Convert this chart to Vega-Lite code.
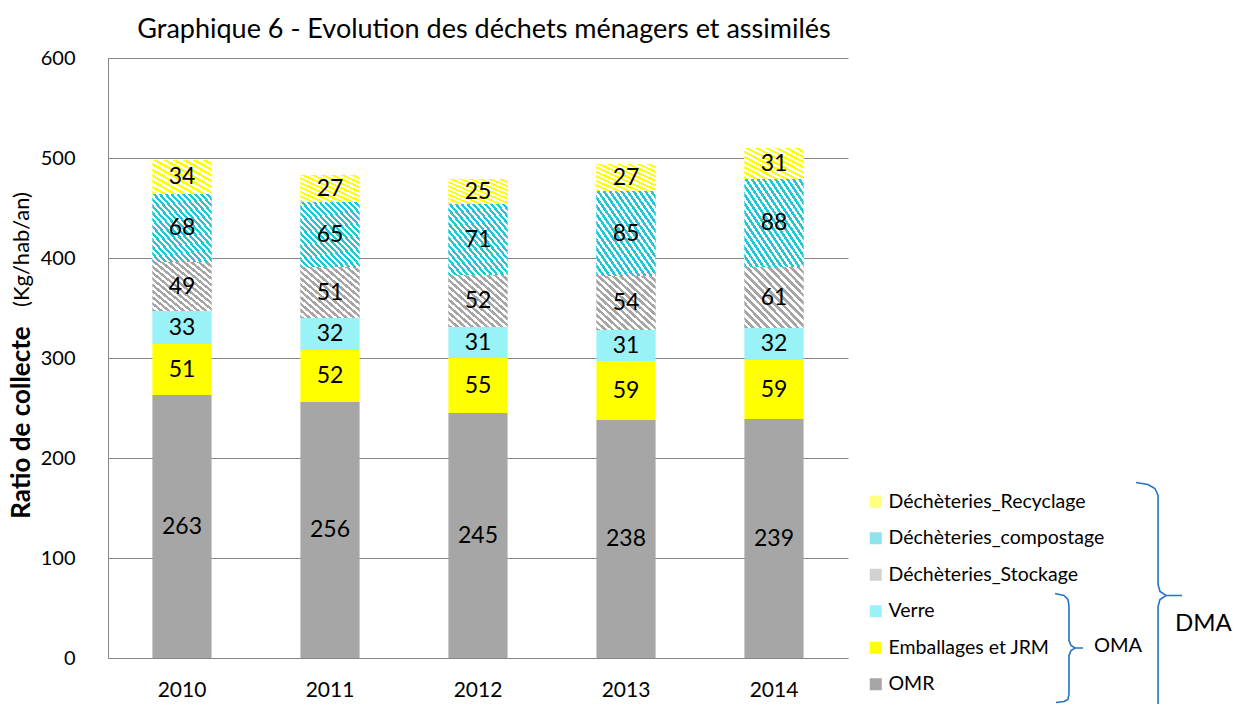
{
  "$schema": "https://vega.github.io/schema/vega-lite/v6.json",
  "width": 740,
  "height": 600,
  "autosize": {"type": "none"},
  "padding": {"left": 108, "top": 58, "right": 386, "bottom": 46},
  "background": "white",
  "config": {"view": {"stroke": null}, "font": "Lato"},
  "title": {"text": "Graphique 6 - Evolution des déchets ménagers et assimilés", "fontSize": 27, "fontWeight": "normal", "font": "Lato", "color": "black", "anchor": "middle", "offset": 4, "dx": 6},
  "datasets": {
    "dechets": [
      {"year": "2010", "cat": "OMR", "value": 263, "ord": 1},
      {"year": "2010", "cat": "Emballages et JRM", "value": 51, "ord": 2},
      {"year": "2010", "cat": "Verre", "value": 33, "ord": 3},
      {"year": "2010", "cat": "Déchèteries_Stockage", "value": 49, "ord": 4},
      {"year": "2010", "cat": "Déchèteries_compostage", "value": 68, "ord": 5},
      {"year": "2010", "cat": "Déchèteries_Recyclage", "value": 34, "ord": 6},
      {"year": "2011", "cat": "OMR", "value": 256, "ord": 1},
      {"year": "2011", "cat": "Emballages et JRM", "value": 52, "ord": 2},
      {"year": "2011", "cat": "Verre", "value": 32, "ord": 3},
      {"year": "2011", "cat": "Déchèteries_Stockage", "value": 51, "ord": 4},
      {"year": "2011", "cat": "Déchèteries_compostage", "value": 65, "ord": 5},
      {"year": "2011", "cat": "Déchèteries_Recyclage", "value": 27, "ord": 6},
      {"year": "2012", "cat": "OMR", "value": 245, "ord": 1},
      {"year": "2012", "cat": "Emballages et JRM", "value": 55, "ord": 2},
      {"year": "2012", "cat": "Verre", "value": 31, "ord": 3},
      {"year": "2012", "cat": "Déchèteries_Stockage", "value": 52, "ord": 4},
      {"year": "2012", "cat": "Déchèteries_compostage", "value": 71, "ord": 5},
      {"year": "2012", "cat": "Déchèteries_Recyclage", "value": 25, "ord": 6},
      {"year": "2013", "cat": "OMR", "value": 238, "ord": 1},
      {"year": "2013", "cat": "Emballages et JRM", "value": 59, "ord": 2},
      {"year": "2013", "cat": "Verre", "value": 31, "ord": 3},
      {"year": "2013", "cat": "Déchèteries_Stockage", "value": 54, "ord": 4},
      {"year": "2013", "cat": "Déchèteries_compostage", "value": 85, "ord": 5},
      {"year": "2013", "cat": "Déchèteries_Recyclage", "value": 27, "ord": 6},
      {"year": "2014", "cat": "OMR", "value": 239, "ord": 1},
      {"year": "2014", "cat": "Emballages et JRM", "value": 59, "ord": 2},
      {"year": "2014", "cat": "Verre", "value": 32, "ord": 3},
      {"year": "2014", "cat": "Déchèteries_Stockage", "value": 61, "ord": 4},
      {"year": "2014", "cat": "Déchèteries_compostage", "value": 88, "ord": 5},
      {"year": "2014", "cat": "Déchèteries_Recyclage", "value": 31, "ord": 6}
    ],
    "braces": [
      {"brace": "OMA", "i": 1, "bx": 6.399, "by": 64.5},
      {"brace": "OMA", "i": 2, "bx": 6.459, "by": 62.5},
      {"brace": "OMA", "i": 3, "bx": 6.486, "by": 58.5},
      {"brace": "OMA", "i": 4, "bx": 6.493, "by": 52.5},
      {"brace": "OMA", "i": 5, "bx": 6.493, "by": 17.5},
      {"brace": "OMA", "i": 6, "bx": 6.507, "by": 12.5},
      {"brace": "OMA", "i": 7, "bx": 6.534, "by": 10},
      {"brace": "OMA", "i": 8, "bx": 6.588, "by": 10},
      {"brace": "OMA", "i": 9, "bx": 6.534, "by": 10},
      {"brace": "OMA", "i": 10, "bx": 6.507, "by": 7.5},
      {"brace": "OMA", "i": 11, "bx": 6.493, "by": 2.5},
      {"brace": "OMA", "i": 12, "bx": 6.493, "by": -36.5},
      {"brace": "OMA", "i": 13, "bx": 6.486, "by": -41.5},
      {"brace": "OMA", "i": 14, "bx": 6.459, "by": -43.5},
      {"brace": "OMA", "i": 15, "bx": 6.405, "by": -44.5},
      {"brace": "DMA", "i": 1, "bx": 6.946, "by": 175.5},
      {"brace": "DMA", "i": 2, "bx": 7.027, "by": 173.5},
      {"brace": "DMA", "i": 3, "bx": 7.074, "by": 169.5},
      {"brace": "DMA", "i": 4, "bx": 7.095, "by": 162.5},
      {"brace": "DMA", "i": 5, "bx": 7.095, "by": 73.5},
      {"brace": "DMA", "i": 6, "bx": 7.108, "by": 66.5},
      {"brace": "DMA", "i": 7, "bx": 7.149, "by": 62.5},
      {"brace": "DMA", "i": 8, "bx": 7.257, "by": 62.5},
      {"brace": "DMA", "i": 9, "bx": 7.149, "by": 62.5},
      {"brace": "DMA", "i": 10, "bx": 7.108, "by": 58.5},
      {"brace": "DMA", "i": 11, "bx": 7.095, "by": 51.5},
      {"brace": "DMA", "i": 12, "bx": 7.095, "by": -55}
    ],
    "notes": [
      {"label": "OMA", "nx": 6.662, "ny": 12.5},
      {"label": "DMA", "nx": 7.209, "ny": 34.5},
      {"label": "(Kg/hab/an)", "nx": -0.581, "ny": 408.5},
      {"label": "Ratio de collecte", "nx": -0.581, "ny": 235.5}
    ]
  },
  "layer": [
    {
      "data": {"name": "dechets"},
      "transform": [
        {"stack": "value", "groupby": ["year"], "sort": [{"field": "ord", "order": "ascending"}], "as": ["y0", "y1"]},
        {"calculate": "(datum.y0 + datum.y1) / 2", "as": "ymid"}
      ],
      "layer": [
        {
          "mark": {"type": "bar"},
          "encoding": {
            "x": {"field": "year", "type": "nominal", "scale": {"paddingInner": 0.6, "paddingOuter": 0.3},
              "axis": {"title": null, "labelAngle": 0, "ticks": false, "labelFontSize": 21, "labelColor": "black", "labelPadding": 21, "domainColor": "#868686", "labelFont": "Lato"}},
            "y": {"field": "y1", "type": "quantitative", "scale": {"domain": [0, 600], "nice": false},
              "axis": {"values": [0, 100, 200, 300, 400, 500, 600], "grid": true, "gridColor": "#868686", "domainColor": "#868686", "ticks": false, "labelFontSize": 20, "labelColor": "black", "labelPadding": 33, "labelFont": "Lato", "title": null}},
            "y2": {"field": "y0"},
            "color": {"field": "cat", "type": "nominal",
              "scale": {
                "domain": ["Déchèteries_Recyclage", "Déchèteries_compostage", "Déchèteries_Stockage", "Verre", "Emballages et JRM", "OMR"],
                "range": ["#ffff80", "#90e3ea", "#d2d2d2", "#99f2f6", "#ffff00", "#a6a6a6"]
              },
              "legend": {
                "title": null, "orient": "none", "legendX": 758, "legendY": 434, "padding": 0,
                "symbolType": "square", "symbolSize": 144, "symbolStrokeWidth": 0,
                "labelFontSize": 19.5, "labelColor": "black", "labelFont": "Lato", "labelOffset": 3, "rowPadding": 15.5, "labelLimit": 400
              }
            }
          }
        },
        {
          "transform": [{"filter": "datum.cat === 'Déchèteries_Recyclage'"}],
          "mark": {"type": "bar", "fill": {"gradient": "linear", "x1": 0, "y1": 1, "x2": 1, "y2": 0, "stops": [
            {"offset": 0, "color": "#ffff00"}, {"offset": 0.0417, "color": "#ffff00"}, {"offset": 0.0417, "color": "#ffffff"}, {"offset": 0.0833, "color": "#ffffff"},
            {"offset": 0.0833, "color": "#ffff00"}, {"offset": 0.125, "color": "#ffff00"}, {"offset": 0.125, "color": "#ffffff"}, {"offset": 0.1667, "color": "#ffffff"},
            {"offset": 0.1667, "color": "#ffff00"}, {"offset": 0.2083, "color": "#ffff00"}, {"offset": 0.2083, "color": "#ffffff"}, {"offset": 0.25, "color": "#ffffff"},
            {"offset": 0.25, "color": "#ffff00"}, {"offset": 0.2917, "color": "#ffff00"}, {"offset": 0.2917, "color": "#ffffff"}, {"offset": 0.3333, "color": "#ffffff"},
            {"offset": 0.3333, "color": "#ffff00"}, {"offset": 0.375, "color": "#ffff00"}, {"offset": 0.375, "color": "#ffffff"}, {"offset": 0.4167, "color": "#ffffff"},
            {"offset": 0.4167, "color": "#ffff00"}, {"offset": 0.4583, "color": "#ffff00"}, {"offset": 0.4583, "color": "#ffffff"}, {"offset": 0.5, "color": "#ffffff"},
            {"offset": 0.5, "color": "#ffff00"}, {"offset": 0.5417, "color": "#ffff00"}, {"offset": 0.5417, "color": "#ffffff"}, {"offset": 0.5833, "color": "#ffffff"},
            {"offset": 0.5833, "color": "#ffff00"}, {"offset": 0.625, "color": "#ffff00"}, {"offset": 0.625, "color": "#ffffff"}, {"offset": 0.6667, "color": "#ffffff"},
            {"offset": 0.6667, "color": "#ffff00"}, {"offset": 0.7083, "color": "#ffff00"}, {"offset": 0.7083, "color": "#ffffff"}, {"offset": 0.75, "color": "#ffffff"},
            {"offset": 0.75, "color": "#ffff00"}, {"offset": 0.7917, "color": "#ffff00"}, {"offset": 0.7917, "color": "#ffffff"}, {"offset": 0.8333, "color": "#ffffff"},
            {"offset": 0.8333, "color": "#ffff00"}, {"offset": 0.875, "color": "#ffff00"}, {"offset": 0.875, "color": "#ffffff"}, {"offset": 0.9167, "color": "#ffffff"},
            {"offset": 0.9167, "color": "#ffff00"}, {"offset": 0.9583, "color": "#ffff00"}, {"offset": 0.9583, "color": "#ffffff"}, {"offset": 1, "color": "#ffffff"}]}},
          "encoding": {
            "x": {"field": "year", "type": "nominal"},
            "y": {"field": "y1", "type": "quantitative"},
            "y2": {"field": "y0"}
          }
        },
        {
          "transform": [{"filter": "datum.cat === 'Déchèteries_compostage'"}],
          "mark": {"type": "bar", "fill": {"gradient": "linear", "x1": 0, "y1": 1, "x2": 1, "y2": 0, "stops": [
            {"offset": 0, "color": "#22c7d6"}, {"offset": 0.025, "color": "#22c7d6"}, {"offset": 0.025, "color": "#ffffff"}, {"offset": 0.05, "color": "#ffffff"},
            {"offset": 0.05, "color": "#22c7d6"}, {"offset": 0.075, "color": "#22c7d6"}, {"offset": 0.075, "color": "#ffffff"}, {"offset": 0.1, "color": "#ffffff"},
            {"offset": 0.1, "color": "#22c7d6"}, {"offset": 0.125, "color": "#22c7d6"}, {"offset": 0.125, "color": "#ffffff"}, {"offset": 0.15, "color": "#ffffff"},
            {"offset": 0.15, "color": "#22c7d6"}, {"offset": 0.175, "color": "#22c7d6"}, {"offset": 0.175, "color": "#ffffff"}, {"offset": 0.2, "color": "#ffffff"},
            {"offset": 0.2, "color": "#22c7d6"}, {"offset": 0.225, "color": "#22c7d6"}, {"offset": 0.225, "color": "#ffffff"}, {"offset": 0.25, "color": "#ffffff"},
            {"offset": 0.25, "color": "#22c7d6"}, {"offset": 0.275, "color": "#22c7d6"}, {"offset": 0.275, "color": "#ffffff"}, {"offset": 0.3, "color": "#ffffff"},
            {"offset": 0.3, "color": "#22c7d6"}, {"offset": 0.325, "color": "#22c7d6"}, {"offset": 0.325, "color": "#ffffff"}, {"offset": 0.35, "color": "#ffffff"},
            {"offset": 0.35, "color": "#22c7d6"}, {"offset": 0.375, "color": "#22c7d6"}, {"offset": 0.375, "color": "#ffffff"}, {"offset": 0.4, "color": "#ffffff"},
            {"offset": 0.4, "color": "#22c7d6"}, {"offset": 0.425, "color": "#22c7d6"}, {"offset": 0.425, "color": "#ffffff"}, {"offset": 0.45, "color": "#ffffff"},
            {"offset": 0.45, "color": "#22c7d6"}, {"offset": 0.475, "color": "#22c7d6"}, {"offset": 0.475, "color": "#ffffff"}, {"offset": 0.5, "color": "#ffffff"},
            {"offset": 0.5, "color": "#22c7d6"}, {"offset": 0.525, "color": "#22c7d6"}, {"offset": 0.525, "color": "#ffffff"}, {"offset": 0.55, "color": "#ffffff"},
            {"offset": 0.55, "color": "#22c7d6"}, {"offset": 0.575, "color": "#22c7d6"}, {"offset": 0.575, "color": "#ffffff"}, {"offset": 0.6, "color": "#ffffff"},
            {"offset": 0.6, "color": "#22c7d6"}, {"offset": 0.625, "color": "#22c7d6"}, {"offset": 0.625, "color": "#ffffff"}, {"offset": 0.65, "color": "#ffffff"},
            {"offset": 0.65, "color": "#22c7d6"}, {"offset": 0.675, "color": "#22c7d6"}, {"offset": 0.675, "color": "#ffffff"}, {"offset": 0.7, "color": "#ffffff"},
            {"offset": 0.7, "color": "#22c7d6"}, {"offset": 0.725, "color": "#22c7d6"}, {"offset": 0.725, "color": "#ffffff"}, {"offset": 0.75, "color": "#ffffff"},
            {"offset": 0.75, "color": "#22c7d6"}, {"offset": 0.775, "color": "#22c7d6"}, {"offset": 0.775, "color": "#ffffff"}, {"offset": 0.8, "color": "#ffffff"},
            {"offset": 0.8, "color": "#22c7d6"}, {"offset": 0.825, "color": "#22c7d6"}, {"offset": 0.825, "color": "#ffffff"}, {"offset": 0.85, "color": "#ffffff"},
            {"offset": 0.85, "color": "#22c7d6"}, {"offset": 0.875, "color": "#22c7d6"}, {"offset": 0.875, "color": "#ffffff"}, {"offset": 0.9, "color": "#ffffff"},
            {"offset": 0.9, "color": "#22c7d6"}, {"offset": 0.925, "color": "#22c7d6"}, {"offset": 0.925, "color": "#ffffff"}, {"offset": 0.95, "color": "#ffffff"},
            {"offset": 0.95, "color": "#22c7d6"}, {"offset": 0.975, "color": "#22c7d6"}, {"offset": 0.975, "color": "#ffffff"}, {"offset": 1, "color": "#ffffff"}]}},
          "encoding": {
            "x": {"field": "year", "type": "nominal"},
            "y": {"field": "y1", "type": "quantitative"},
            "y2": {"field": "y0"}
          }
        },
        {
          "transform": [{"filter": "datum.cat === 'Déchèteries_Stockage'"}],
          "mark": {"type": "bar", "fill": {"gradient": "linear", "x1": 0, "y1": 1, "x2": 1, "y2": 0, "stops": [
            {"offset": 0, "color": "#a6a6a6"}, {"offset": 0.0313, "color": "#a6a6a6"}, {"offset": 0.0313, "color": "#ffffff"}, {"offset": 0.0625, "color": "#ffffff"},
            {"offset": 0.0625, "color": "#a6a6a6"}, {"offset": 0.0938, "color": "#a6a6a6"}, {"offset": 0.0938, "color": "#ffffff"}, {"offset": 0.125, "color": "#ffffff"},
            {"offset": 0.125, "color": "#a6a6a6"}, {"offset": 0.1563, "color": "#a6a6a6"}, {"offset": 0.1563, "color": "#ffffff"}, {"offset": 0.1875, "color": "#ffffff"},
            {"offset": 0.1875, "color": "#a6a6a6"}, {"offset": 0.2188, "color": "#a6a6a6"}, {"offset": 0.2188, "color": "#ffffff"}, {"offset": 0.25, "color": "#ffffff"},
            {"offset": 0.25, "color": "#a6a6a6"}, {"offset": 0.2813, "color": "#a6a6a6"}, {"offset": 0.2813, "color": "#ffffff"}, {"offset": 0.3125, "color": "#ffffff"},
            {"offset": 0.3125, "color": "#a6a6a6"}, {"offset": 0.3438, "color": "#a6a6a6"}, {"offset": 0.3438, "color": "#ffffff"}, {"offset": 0.375, "color": "#ffffff"},
            {"offset": 0.375, "color": "#a6a6a6"}, {"offset": 0.4063, "color": "#a6a6a6"}, {"offset": 0.4063, "color": "#ffffff"}, {"offset": 0.4375, "color": "#ffffff"},
            {"offset": 0.4375, "color": "#a6a6a6"}, {"offset": 0.4688, "color": "#a6a6a6"}, {"offset": 0.4688, "color": "#ffffff"}, {"offset": 0.5, "color": "#ffffff"},
            {"offset": 0.5, "color": "#a6a6a6"}, {"offset": 0.5313, "color": "#a6a6a6"}, {"offset": 0.5313, "color": "#ffffff"}, {"offset": 0.5625, "color": "#ffffff"},
            {"offset": 0.5625, "color": "#a6a6a6"}, {"offset": 0.5938, "color": "#a6a6a6"}, {"offset": 0.5938, "color": "#ffffff"}, {"offset": 0.625, "color": "#ffffff"},
            {"offset": 0.625, "color": "#a6a6a6"}, {"offset": 0.6563, "color": "#a6a6a6"}, {"offset": 0.6563, "color": "#ffffff"}, {"offset": 0.6875, "color": "#ffffff"},
            {"offset": 0.6875, "color": "#a6a6a6"}, {"offset": 0.7188, "color": "#a6a6a6"}, {"offset": 0.7188, "color": "#ffffff"}, {"offset": 0.75, "color": "#ffffff"},
            {"offset": 0.75, "color": "#a6a6a6"}, {"offset": 0.7813, "color": "#a6a6a6"}, {"offset": 0.7813, "color": "#ffffff"}, {"offset": 0.8125, "color": "#ffffff"},
            {"offset": 0.8125, "color": "#a6a6a6"}, {"offset": 0.8438, "color": "#a6a6a6"}, {"offset": 0.8438, "color": "#ffffff"}, {"offset": 0.875, "color": "#ffffff"},
            {"offset": 0.875, "color": "#a6a6a6"}, {"offset": 0.9063, "color": "#a6a6a6"}, {"offset": 0.9063, "color": "#ffffff"}, {"offset": 0.9375, "color": "#ffffff"},
            {"offset": 0.9375, "color": "#a6a6a6"}, {"offset": 0.9688, "color": "#a6a6a6"}, {"offset": 0.9688, "color": "#ffffff"}, {"offset": 1, "color": "#ffffff"}]}},
          "encoding": {
            "x": {"field": "year", "type": "nominal"},
            "y": {"field": "y1", "type": "quantitative"},
            "y2": {"field": "y0"}
          }
        },
        {
          "mark": {"type": "text", "fontSize": 23, "font": "Lato", "color": "black", "align": "center", "baseline": "middle"},
          "encoding": {
            "x": {"field": "year", "type": "nominal"},
            "y": {"field": "ymid", "type": "quantitative"},
            "text": {"field": "value", "type": "quantitative"}
          }
        }
      ]
    },
    {
      "data": {"name": "braces"},
      "mark": {"type": "line", "color": "#2672c8", "strokeWidth": 1.6, "clip": false},
      "encoding": {
        "x": {"field": "bx", "type": "quantitative", "scale": {"domain": [0, 5], "nice": false, "zero": false}, "axis": null},
        "y": {"field": "by", "type": "quantitative", "scale": {"domain": [0, 600], "nice": false}, "axis": null},
        "detail": {"field": "brace", "type": "nominal"},
        "order": {"field": "i", "type": "quantitative"}
      }
    },
    {
      "data": {"name": "notes"},
      "transform": [{"filter": "datum.label === 'OMA'"}],
      "mark": {"type": "text", "fontSize": 20, "font": "Lato", "color": "black", "align": "left", "baseline": "middle"},
      "encoding": {
        "x": {"field": "nx", "type": "quantitative", "scale": {"domain": [0, 5], "nice": false, "zero": false}, "axis": null},
        "y": {"field": "ny", "type": "quantitative", "scale": {"domain": [0, 600], "nice": false}, "axis": null},
        "text": {"field": "label"}
      }
    },
    {
      "data": {"name": "notes"},
      "transform": [{"filter": "datum.label === 'DMA'"}],
      "mark": {"type": "text", "fontSize": 24, "font": "Lato", "color": "black", "align": "left", "baseline": "middle"},
      "encoding": {
        "x": {"field": "nx", "type": "quantitative", "scale": {"domain": [0, 5], "nice": false, "zero": false}, "axis": null},
        "y": {"field": "ny", "type": "quantitative", "scale": {"domain": [0, 600], "nice": false}, "axis": null},
        "text": {"field": "label"}
      }
    },
    {
      "data": {"name": "notes"},
      "transform": [{"filter": "datum.label === '(Kg/hab/an)'"}],
      "mark": {"type": "text", "fontSize": 22, "font": "Lato", "color": "black", "align": "center", "baseline": "middle", "angle": 270},
      "encoding": {
        "x": {"field": "nx", "type": "quantitative", "scale": {"domain": [0, 5], "nice": false, "zero": false}, "axis": null},
        "y": {"field": "ny", "type": "quantitative", "scale": {"domain": [0, 600], "nice": false}, "axis": null},
        "text": {"field": "label"}
      }
    },
    {
      "data": {"name": "notes"},
      "transform": [{"filter": "datum.label === 'Ratio de collecte'"}],
      "mark": {"type": "text", "fontSize": 26, "font": "Lato", "fontWeight": "bold", "color": "black", "align": "center", "baseline": "middle", "angle": 270},
      "encoding": {
        "x": {"field": "nx", "type": "quantitative", "scale": {"domain": [0, 5], "nice": false, "zero": false}, "axis": null},
        "y": {"field": "ny", "type": "quantitative", "scale": {"domain": [0, 600], "nice": false}, "axis": null},
        "text": {"field": "label"}
      }
    }
  ],
  "resolve": {"scale": {"x": "independent", "y": "independent"}}
}
